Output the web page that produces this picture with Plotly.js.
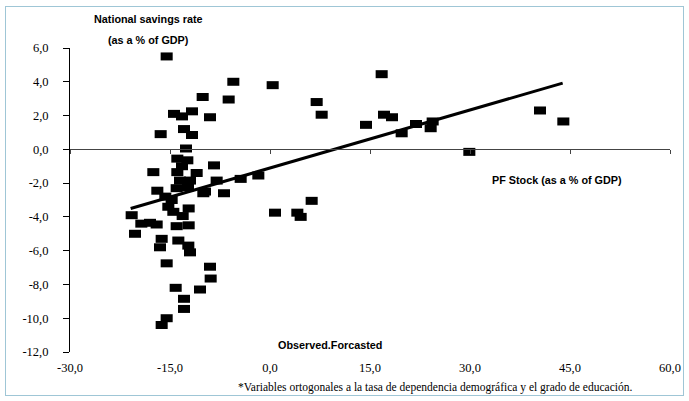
<!DOCTYPE html>
<html>
<head>
<meta charset="utf-8">
<script src="https://cdn.plot.ly/plotly-3.0.1.min.js"></script>
<style>
  html, body { margin: 0; padding: 0; background: #ffffff; }
  #wrap { position: relative; width: 689px; height: 401px; }
  #chart { width: 689px; height: 401px; }
  #frame { position: absolute; left: 5px; top: 6px; width: 677px; height: 388px;
           border: 1px solid #9fc6d6; pointer-events: none; }
</style>
</head>
<body>
<div id="wrap">
  <div id="chart"></div>
  <div id="frame"></div>
</div>
<script>
// PF Stock (% of GDP) vs National savings rate (% of GDP)
const pfStock = [
  -15.5, -10.1, -11.7, -14.4, -13.2, -9.0, -16.4, -12.9, -11.7, -5.5, -6.2, -12.6,
  -13.9, -12.4, -13.2, -11.0, -17.5, -8.4, -8.0, -13.9, -13.5, -12.0, -6.9, -4.4,
  -1.75, -10.0, -16.9, -14.0, -12.3, -15.7, -14.75, -15.25, -12.2, -20.75, -13.1,
  -19.3, -18.0, -17.0, -14.0, -12.2, -9.75, -20.25, -16.25, -13.75, -16.5, -12.25,
  -12.0, -15.5, -9.0, -8.9, -14.15, -10.5, -12.9, -12.9, -15.5, -16.25, -14.5,
  0.4, 7.0, 7.75, 16.75, 17.1, 18.3, 14.4, 19.75, 0.75, 4.1, 4.6, 6.25,
  21.9, 24.4, 24.1, 29.9, 40.5, 44.0
];
const savingsRate = [
  5.5, 3.1, 2.25, 2.1, 1.95, 1.9, 0.9, 1.2, 0.85, 4.0, 2.95, 0.05,
  -0.55, -0.65, -1.0, -1.4, -1.35, -0.95, -1.85, -1.35, -1.85, -1.85, -2.6, -1.75,
  -1.55, -2.6, -2.45, -2.3, -2.25, -2.8, -3.0, -3.4, -3.5, -3.9, -3.95,
  -4.4, -4.35, -4.45, -4.55, -4.5, -2.5, -5.0, -5.3, -5.4, -5.8, -5.7,
  -6.1, -6.75, -6.95, -7.65, -8.2, -8.3, -8.85, -9.45, -10.0, -10.4, -3.7,
  3.8, 2.8, 2.05, 4.45, 2.05, 1.9, 1.45, 0.95, -3.75, -3.75, -4.0, -3.05,
  1.5, 1.65, 1.25, -0.15, 2.3, 1.65
];
// Trend line end points
const trendX = [-20.9, 43.9];
const trendY = [-3.5, 3.92];

// Axis ticks
const xTickVals = [-30, -15, 0, 15, 30, 45, 60];
const xTickText = ['-30,0', '-15,0', '0,0', '15,0', '30,0', '45,0', '60,0'];
const yTickVals = [6, 4, 2, 0, -2, -4, -6, -8, -10, -12];
const yTickText = ['6,0', '4,0', '2,0', '0,0', '-2,0', '-4,0', '-6,0', '-8,0', '-10,0', '-12,0'];

const serif = '"Liberation Serif", "Times New Roman", Times, serif';
const sans = '"Liberation Sans", Arial, Helvetica, sans-serif';

const traces = [
  {
    type: 'scatter', mode: 'markers', x: pfStock, y: savingsRate,
    xaxis: 'x', yaxis: 'y', hoverinfo: 'skip',
    marker: { symbol: 'line-ew', size: 8.6, color: '#000000',
              line: { color: '#000000', width: 8 } }
  },
  {
    type: 'scatter', mode: 'lines', x: trendX, y: trendY,
    xaxis: 'x2', yaxis: 'y', hoverinfo: 'skip',
    line: { color: '#000000', width: 3 }
  }
];

const layout = {
  width: 689, height: 401,
  margin: { l: 70, r: 19, t: 48, b: 49 },
  paper_bgcolor: '#ffffff', plot_bgcolor: '#ffffff',
  showlegend: false,
  font: { family: serif },
  xaxis: {
    range: [-30, 60], tickvals: xTickVals, ticktext: xTickText,
    showline: false, showgrid: false, zeroline: false, ticks: '',
    ticklabelstandoff: 6,
    tickfont: { family: serif, size: 12.5, color: '#000000' }
  },
  xaxis2: {
    range: [-30, 60], overlaying: 'x', anchor: 'free', position: 12 / 18, side: 'bottom',
    tickvals: xTickVals, showticklabels: false,
    showline: true, linecolor: '#444444', linewidth: 1,
    ticks: 'outside', ticklen: 4, tickcolor: '#444444', tickwidth: 1,
    showgrid: false, zeroline: false
  },
  yaxis: {
    range: [-12, 6], tickvals: yTickVals, ticktext: yTickText,
    showline: true, linecolor: '#000000', linewidth: 1,
    ticks: 'outside', ticklen: 6, tickcolor: '#000000',
    showgrid: false, zeroline: false, ticklabelstandoff: 12,
    tickfont: { family: serif, size: 12.5, color: '#000000' }
  },
  annotations: [
    { text: '<b>National savings rate</b>', xref: 'paper', yref: 'paper',
      x: 0.13, y: 1.095, showarrow: false, xanchor: 'center', yanchor: 'middle',
      font: { family: sans, size: 10.8, color: '#000000' } },
    { text: '<b>(as a % of GDP)</b>', xref: 'paper', yref: 'paper',
      x: 0.13, y: 1.026, showarrow: false, xanchor: 'center', yanchor: 'middle',
      font: { family: sans, size: 10.8, color: '#000000' } },
    { text: '<b>PF Stock (as a % of GDP)</b>', xref: 'paper', yref: 'paper',
      x: 0.812, y: 0.566, showarrow: false, xanchor: 'center', yanchor: 'middle',
      font: { family: sans, size: 10.8, color: '#000000' } },
    { text: '<b>Observed.Forcasted</b>', xref: 'paper', yref: 'paper',
      x: 0.433, y: 0.023, showarrow: false, xanchor: 'center', yanchor: 'middle',
      font: { family: sans, size: 10.8, color: '#000000' } },
    { text: '*Variables ortogonales a la tasa de dependencia demográfica y el grado de educación.',
      xref: 'paper', yref: 'paper',
      x: 0.608, y: -0.118, showarrow: false, xanchor: 'center', yanchor: 'middle',
      font: { family: serif, size: 11.5, color: '#000000' } }
  ]
};

Plotly.newPlot('chart', traces, layout, { staticPlot: true, displayModeBar: false });
</script>
</body>
</html>
